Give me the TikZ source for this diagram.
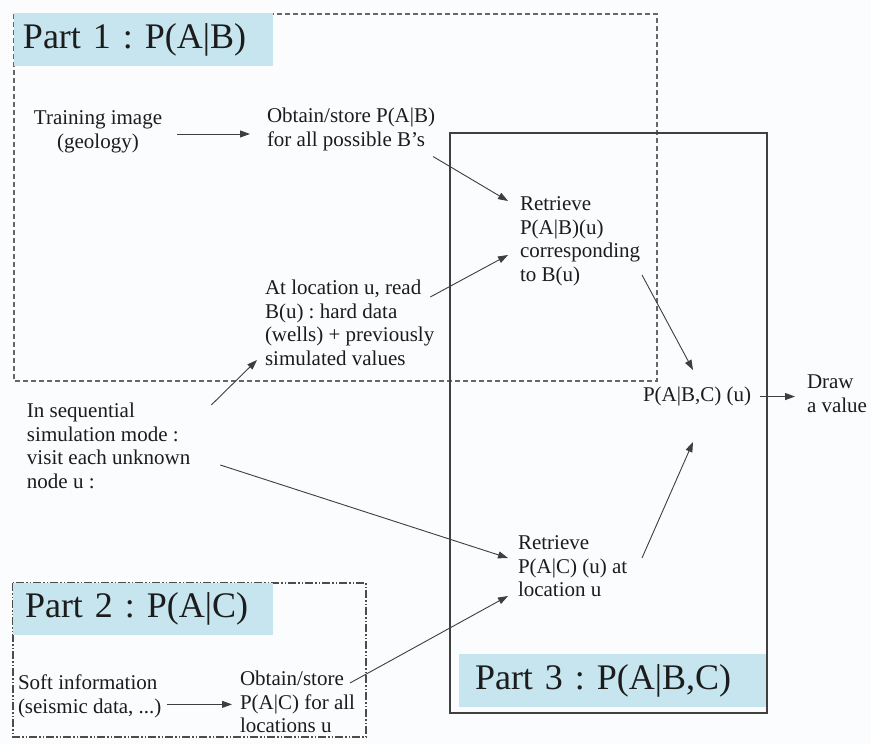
\documentclass[tikz,border=0pt]{standalone}
\usepackage{fontspec}
\setmainfont{Liberation Serif}
\usetikzlibrary{arrows.meta}
\definecolor{hdr}{RGB}{198,229,239}
\definecolor{ink}{RGB}{28,28,28}
\definecolor{bg}{RGB}{250,252,253}
\frenchspacing
\begin{document}
\begin{tikzpicture}[x=1pt,y=-1pt,
  txt/.style={font=\fontsize{21}{23.5}\selectfont, text=ink, inner sep=0pt, outer sep=0pt, align=left, anchor=north west},
  hdrbox/.style={fill=hdr, text=ink, font=\fontsize{36}{40}\selectfont, anchor=north west, align=left, minimum height=53pt, inner ysep=0pt, outer sep=0pt},
  link/.style={draw=ink!85, line width=0.9pt, -{Triangle[length=10pt,width=7pt]}},
  part1/.style={draw=black!60, line width=1.2pt, dash pattern=on 5pt off 3pt},
  part2/.style={draw=black!70, line width=1.2pt, dash pattern=on 8pt off 2pt on 1.5pt off 2pt on 1.5pt off 2pt},
  part3/.style={draw=black!75, line width=1.2pt}
]
\useasboundingbox (0,0) rectangle (871,744);
\fill[bg] (0,0) rectangle (871,744);

% frames of the three parts
\draw[part1] (14,14) rectangle (657,381);
\draw[part3] (450,133) rectangle (767,713);
\draw[part2] (13,583) rectangle (366,737);

% part headers
\node[hdrbox, inner xsep=9pt, text width=241pt] (h1) at (14,13) {Part 1 : P(A|B)};
\node[hdrbox, inner xsep=12pt, text width=236pt, minimum height=52pt] (h2) at (13,583) {Part 2 : P(A|C)};
\node[hdrbox, inner xsep=16pt, text width=275pt] (h3) at (459,654) {Part 3 : P(A|B,C)};

% text blocks
\node[txt, anchor=north, align=center] (train) at (98,111) {Training image\\(geology)};
\node[txt] (obtainB) at (267,108) {Obtain/store P(A|B)\\for all possible B’s};
\node[txt] (retrB) at (520,197) {Retrieve\\P(A|B)(u)\\corresponding\\to B(u)};
\node[txt] (atloc) at (265,280) {At location u, read\\B(u) : hard data\\(wells) + previously\\simulated values};
\node[txt] (seq) at (27,403) {In sequential\\simulation mode :\\visit each unknown\\node u :};
\node[txt] (retrC) at (518,536) {Retrieve\\P(A|C) (u) at\\location u};
\node[txt] (pabc) at (643,387) {P(A|B,C) (u)};
\node[txt] (drawv) at (807,375) {Draw\\a value};
\node[txt] (soft) at (18,675) {Soft information\\(seismic data, ...)};
\node[txt] (obtainC) at (240,671) {Obtain/store\\P(A|C) for all\\locations u};

% connectors
\draw[link, shorten <=15pt, shorten >=17pt] ([yshift=-2pt]train.east) -- ([yshift=-2pt]train.east -| obtainB.west);
\draw[link] ([shift={(-2,6)}]obtainB.south east) -- ([shift={(-12,4)}]retrB.north west);
\draw[link] ([shift={(-4,17)}]atloc.north east) -- ([shift={(-12,58)}]retrB.north west);
\draw[link] ([shift={(21,2)}]seq.north east) -- ([shift={(-8,80)}]atloc.north west);
\draw[link] ([shift={(30,62)}]seq.north east) -- ([shift={(-10,22)}]retrC.north west);
\draw[link] ([shift={(110,12)}]obtainC.north west) -- ([shift={(-10,60)}]retrC.north west);
\draw[link] ([shift={(122,78)}]retrB.north west) -- ([shift={(50,-17)}]pabc.north west);
\draw[link] ([shift={(124,22)}]retrC.north west) -- ([shift={(50,55)}]pabc.north west);
\draw[link, shorten <=9pt, shorten >=12pt] (pabc.east) -- (pabc.east -| drawv.west);
\draw[link, shorten <=6pt, shorten >=8pt] ([yshift=-8pt]soft.east) -- ([yshift=-8pt]soft.east -| obtainC.west);
\end{tikzpicture}
\end{document}
